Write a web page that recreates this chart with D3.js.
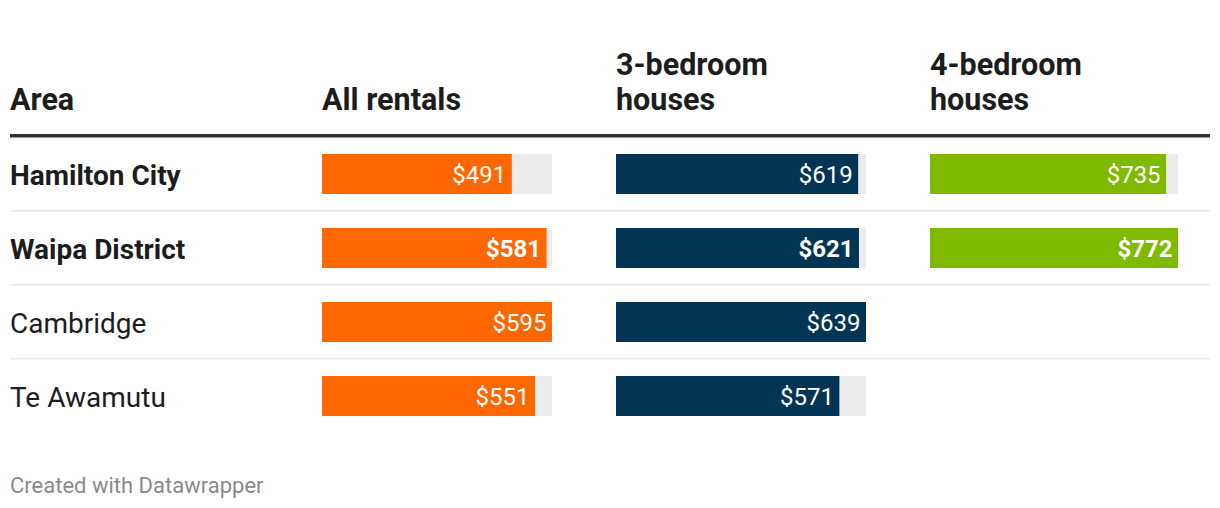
<!DOCTYPE html>
<html><head><meta charset="utf-8">
<script src="https://cdn.jsdelivr.net/npm/d3@7"></script>
<style>
body{margin:0;background:#fff;}
svg text{font-family:Roboto,"Noto Sans",sans-serif;}
</style></head>
<body>
<svg id="chart" width="1220" height="508"></svg>
<script>
const areas = ["Hamilton City","Waipa District","Cambridge","Te Awamutu"];
const boldRows = ["Hamilton City","Waipa District"];
const boldValueRows = ["Waipa District"];
const columnHeaders = [["All rentals"],["3-bedroom","houses"],["4-bedroom","houses"]];
const allRentals = [491,581,595,551];
const threeBedroom = [619,621,639,571];
const fourBedroom = [735,772,null,null];
const colors = ["#ff6700","#023553","#80ba00"];

const series = [allRentals, threeBedroom, fourBedroom];
const colX = [322, 616, 930];
const colW = [230, 250, 248];

const svg = d3.select("#chart");
const rowY = d3.scaleBand().domain(areas).range([137, 433]).paddingInner(0);

// headers
svg.append("text").attr("x",10).attr("y",110).attr("font-size",30.5).attr("font-weight",700).attr("fill","#1d1d1d").text("Area");
columnHeaders.forEach((lines,i)=>{
  const n = lines.length;
  lines.forEach((l,j)=>{
    svg.append("text").attr("x",colX[i]).attr("y",110-(n-1-j)*35)
      .attr("font-size",30.5).attr("font-weight",700).attr("fill","#1d1d1d").text(l);
  });
});
svg.append("rect").attr("x",10).attr("y",134).attr("width",1200).attr("height",3.5).attr("fill","#333");

// row separators
areas.slice(0,-1).forEach(a=>{
  svg.append("rect").attr("x",10).attr("y",rowY(a)+rowY.bandwidth()-1).attr("width",1200).attr("height",1.5).attr("fill","#e8e8e8");
});

// row labels
areas.forEach(a=>{
  svg.append("text").attr("x",10).attr("y",rowY(a)+rowY.bandwidth()/2+11)
    .attr("font-size",28)
    .attr("font-weight",boldRows.includes(a)?700:400).attr("fill","#1d1d1d").text(a);
});

// bars
series.forEach((vals,i)=>{
  const max = d3.max(vals.filter(v=>v!=null));
  const x = d3.scaleLinear().domain([0,max]).range([0,colW[i]]);
  const g = svg.append("g").attr("transform",`translate(${colX[i]},0)`);
  areas.forEach((a,r)=>{
    const v = vals[r];
    if(v==null) return;
    const y = rowY(a)+rowY.bandwidth()/2-20;
    g.append("rect").attr("x",0).attr("y",y).attr("width",x(max)).attr("height",40).attr("fill","#ececec");
    g.append("rect").attr("x",0).attr("y",y).attr("width",x(v)).attr("height",40).attr("fill",colors[i]);
    g.append("text").attr("x",x(v)-5.5).attr("y",y+29).attr("text-anchor","end")
      .attr("font-size",24)
      .attr("font-weight",boldValueRows.includes(a)?700:400).attr("fill","#fff").text("$"+v);
  });
});

svg.append("text").attr("x",10).attr("y",493).attr("font-size",22).attr("fill","#8a8a8a").text("Created with Datawrapper");
</script>
</body></html>
